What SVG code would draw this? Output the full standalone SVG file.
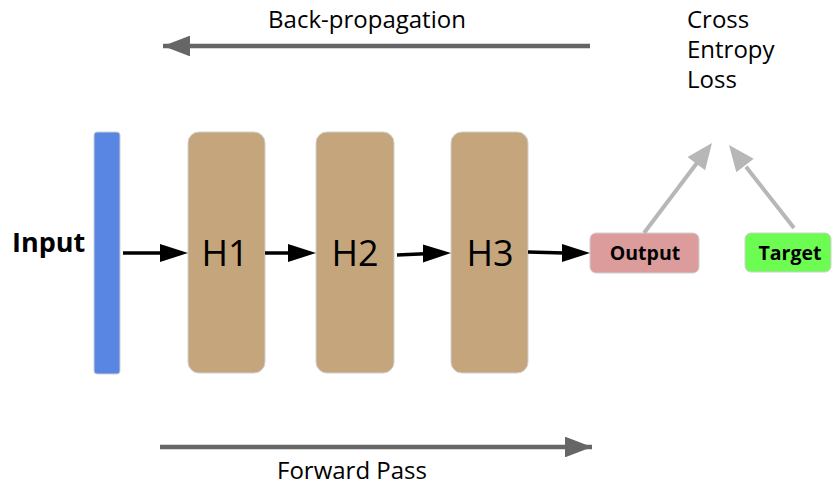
<svg xmlns="http://www.w3.org/2000/svg" width="833" height="486" viewBox="0 0 833 486">
<style>
.lbl{font-family:"Open Sans","Noto Sans","Liberation Sans",sans-serif;fill:#000}
.hid{fill:#c5a57c;stroke:#d0d0d0;stroke-width:1}
.hl{font-size:36px;text-anchor:middle}
.big{font-size:24px}
.box{font-size:19.5px;font-weight:bold;text-anchor:middle}
.bk{stroke:#000;stroke-width:3.5;fill:none}
.gy{stroke:#b7b7b7;stroke-width:4;fill:none}
.dg{stroke:#666;stroke-width:4.5;fill:none}
</style>
<defs>
<marker id="ad" viewBox="0 0 10 10" refX="10" refY="5" markerWidth="6" markerHeight="4.6" orient="auto" preserveAspectRatio="none"><path d="M0,0L10,5L0,10z" fill="#666"/></marker>
</defs>
<rect width="833" height="486" fill="#fff"/>
<g id="input">
<rect x="94" y="132" width="26" height="242" rx="3" fill="#5886e2" stroke="#d0d0d0" stroke-width="1"/>
<text class="lbl" x="12" y="252" font-size="27" font-weight="bold">Input</text>
</g>
<g id="h1"><rect class="hid" x="188" y="132" width="77" height="241" rx="11"/><text class="lbl hl" x="225" y="266">H1</text></g>
<g id="h2"><rect class="hid" x="316" y="132" width="78" height="241" rx="11"/><text class="lbl hl" x="355" y="266">H2</text></g>
<g id="h3"><rect class="hid" x="451" y="132" width="77" height="241" rx="11"/><text class="lbl hl" x="490" y="266">H3</text></g>
<g id="output"><rect x="590" y="233" width="109" height="40" rx="6" fill="#dd9c9c" stroke="#d0d0d0" stroke-width="1"/><text class="lbl box" x="645" y="260">Output</text></g>
<g id="target"><rect x="745" y="233" width="86" height="39" rx="6" fill="#6cfc52" stroke="#d0d0d0" stroke-width="1"/><text class="lbl box" x="790" y="260">Target</text></g>
<g id="loss"><text class="lbl big" x="687" y="28">Cross</text><text class="lbl big" x="687" y="58">Entropy</text><text class="lbl big" x="687" y="88">Loss</text></g>
<g id="backprop"><text class="lbl big" x="367" y="28" text-anchor="middle">Back-propagation</text></g>
<g id="forward"><text class="lbl big" x="352" y="479" text-anchor="middle">Forward Pass</text></g>
<g id="connectors">
<path d="M123,253H162" class="bk"/>
<path d="M160,244L188,253L160,262z" fill="#000"/>
<path d="M265,253H290" class="bk"/>
<path d="M288,244L316,253L288,262z" fill="#000"/>
<path d="M397,255L425,253.8" class="bk"/>
<path d="M423,244.5L451,253L423,262.5z" fill="#000"/>
<path d="M528,252L564,253" class="bk"/>
<path d="M562,244L590,253L562,262z" fill="#000"/>
<path d="M644,233L697.5,162.2" class="gy"/>
<path d="M712,143L705.1,170.3L687.5,157.1z" fill="#b7b7b7"/>
<path d="M794,228L746,166.8" class="gy"/>
<path d="M729,145L753.7,158.7L736.3,172.3z" fill="#b7b7b7"/>
<line class="dg" x1="590" y1="46" x2="163" y2="46" marker-end="url(#ad)"/>
<line class="dg" x1="160" y1="447" x2="592" y2="447" marker-end="url(#ad)"/>
</g>
</svg>
